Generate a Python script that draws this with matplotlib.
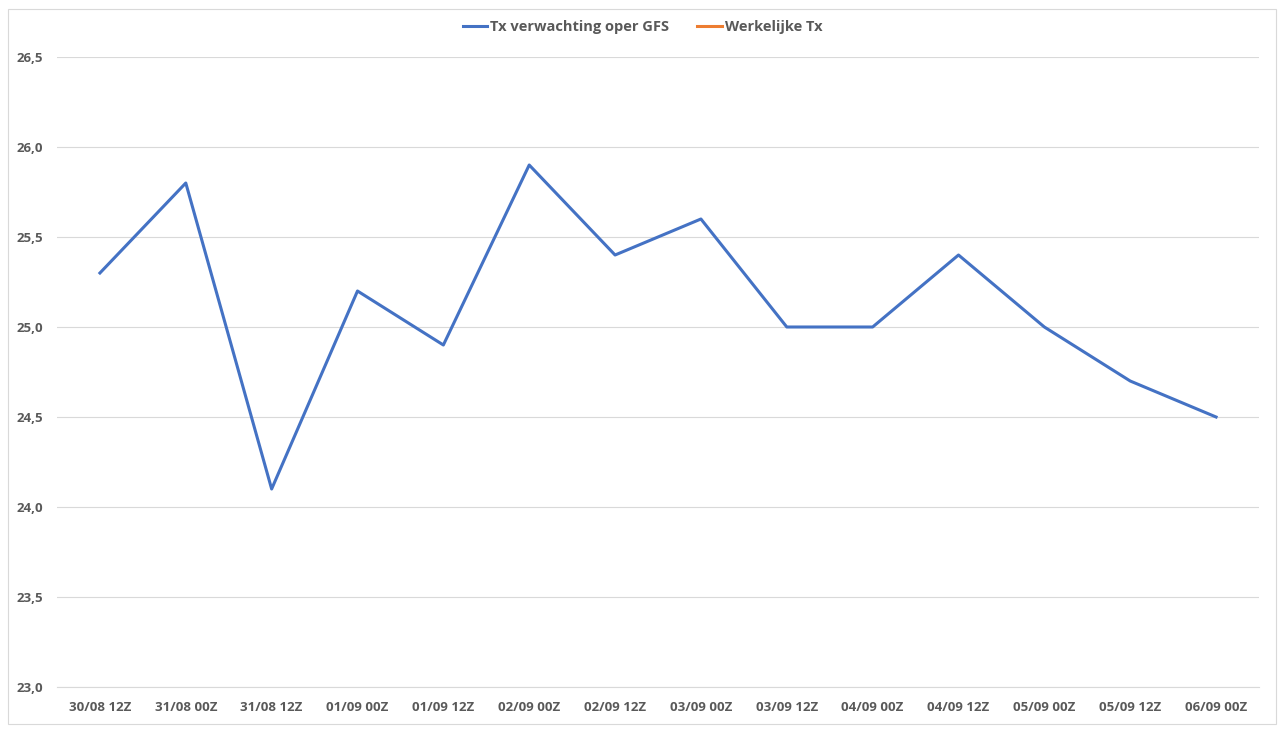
import matplotlib
matplotlib.use("Agg")
import matplotlib.pyplot as plt
from matplotlib.patches import Rectangle

categories = ["30/08 12Z", "31/08 00Z", "31/08 12Z", "01/09 00Z", "01/09 12Z",
              "02/09 00Z", "02/09 12Z", "03/09 00Z", "03/09 12Z", "04/09 00Z",
              "04/09 12Z", "05/09 00Z", "05/09 12Z", "06/09 00Z"]
gfs_values = [25.3, 25.8, 24.1, 25.2, 24.9, 25.9, 25.4, 25.6, 25.0, 25.0,
              25.4, 25.0, 24.7, 24.5]
actual_values = []
y_ticks = [23.0, 23.5, 24.0, 24.5, 25.0, 25.5, 26.0, 26.5]

plt.rcParams['font.family'] = ['Open Sans', 'DejaVu Sans']
W, H = 1285, 733
fig = plt.figure(figsize=(W / 100, H / 100), dpi=100)
fig.patches.append(Rectangle((8 / W, 9 / H), 1268 / W, 715 / H, transform=fig.transFigure,
                             fill=False, edgecolor="#D9D9D9", linewidth=0.8))
ax = fig.add_axes([57 / W, 1 - 687 / H, 1202 / W, 630 / H])

x = list(range(len(categories)))
ax.plot(x, gfs_values, color="#4472C4", linewidth=2.2, label="Tx verwachting oper GFS",
        solid_joinstyle="round")
ax.plot(x[:len(actual_values)], actual_values, color="#ED7D31", linewidth=2.2, label="Werkelijke Tx")

ax.set_xlim(-0.5, len(categories) - 0.5)
ax.set_ylim(23.0, 26.5)
ax.set_yticks(y_ticks)
ax.set_yticklabels([f"{v:.1f}".replace(".", ",") for v in y_ticks])
ax.set_xticks(x)
ax.set_xticklabels(categories)
ax.grid(axis="y", color="#D9D9D9", linewidth=0.8)
ax.set_axisbelow(True)
for s in ["left", "right", "top"]:
    ax.spines[s].set_visible(False)
ax.spines["bottom"].set_color("#D9D9D9")
ax.spines["bottom"].set_linewidth(0.8)
ax.tick_params(axis="both", length=0, labelsize=9.5, labelcolor="#595959")
ax.tick_params(axis="y", pad=10)
ax.tick_params(axis="x", pad=10)
for lbl in ax.get_xticklabels() + ax.get_yticklabels():
    lbl.set_fontweight("bold")

leg = fig.legend(loc="center", bbox_to_anchor=(0.5, 1 - 27 / H), ncol=2, frameon=False,
                 prop={"size": 10.5, "weight": "bold"}, handlelength=1.7, handletextpad=0.2,
                 columnspacing=1.9, labelcolor="#595959")

fig.savefig("out.png", dpi=100)
